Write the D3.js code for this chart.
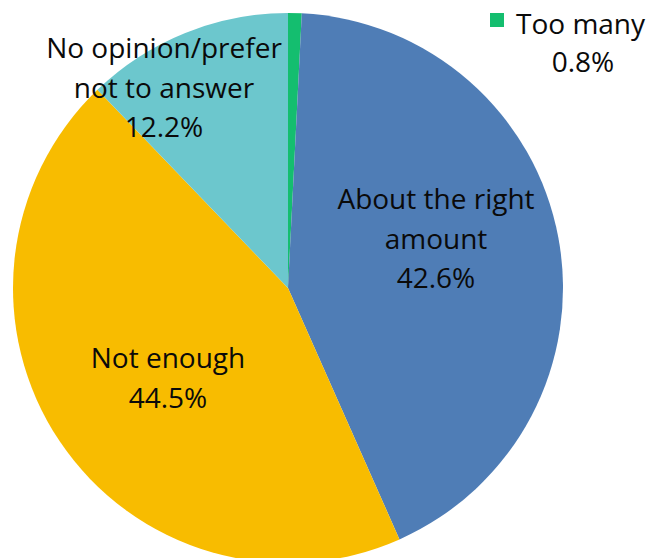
<!DOCTYPE html>
<html>
<head>
<meta charset="utf-8">
<script src="https://cdn.jsdelivr.net/npm/d3@7"></script>
<style>
  body { margin: 0; background: #fff; }
  text { font-family: "Open Sans", Lato, sans-serif; fill: #0a0a0a; }
</style>
</head>
<body>
<div id="canvas"></div>
<script>
(function (d3) {
  'use strict';

  const width = 656;
  const height = 558;

  const categories = ['Too many', 'About the right amount', 'Not enough', 'No opinion/prefer not to answer'];
  const values = [0.8, 42.6, 44.5, 12.2];
  const colors = ['#14BE6F', '#4F7DB6', '#F8BC00', '#6CC7CD'];
  const labelLines = [
    ['Too many', '0.8%'],
    ['About the right', 'amount', '42.6%'],
    ['Not enough', '44.5%'],
    ['No opinion/prefer', 'not to answer', '12.2%']
  ];

  const cx = 288, cy = 288, radius = 275;
  const fontSize = '28px';

  const svg = d3.select('#canvas')
    .append('svg')
    .attr('width', width)
    .attr('height', height);

  const data = categories.map((c, i) => ({ name: c, value: values[i], color: colors[i], lines: labelLines[i] }));

  const pie = d3.pie().sort(null).value(d => d.value);
  const arc = d3.arc().innerRadius(0).outerRadius(radius);

  const g = svg.append('g').attr('transform', `translate(${cx},${cy})`);
  g.selectAll('path')
    .data(pie(data))
    .enter()
    .append('path')
    .attr('d', arc)
    .attr('fill', d => d.data.color);

  // label anchors (centre x, first baseline y)
  const labelPos = [null, [436, 209], [168, 368], [164, 58]];
  const lineH = 39.5;

  data.forEach((d, i) => {
    if (!labelPos[i]) return;
    const t = svg.append('text')
      .attr('text-anchor', 'middle')
      .style('font-size', fontSize);
    d.lines.forEach((l, j) => {
      t.append('tspan')
        .attr('x', labelPos[i][0])
        .attr('y', labelPos[i][1] + j * lineH)
        .text(l);
    });
  });

  // legend-style label for the tiny slice
  svg.append('rect').attr('x', 490).attr('y', 13).attr('width', 14).attr('height', 14).attr('fill', colors[0]);
  svg.append('text').attr('x', 516).attr('y', 34).style('font-size', fontSize).text(labelLines[0][0]);
  svg.append('text').attr('x', 583).attr('y', 72).attr('text-anchor', 'middle').style('font-size', fontSize).text(labelLines[0][1]);

}(d3));
</script>
</body>
</html>
